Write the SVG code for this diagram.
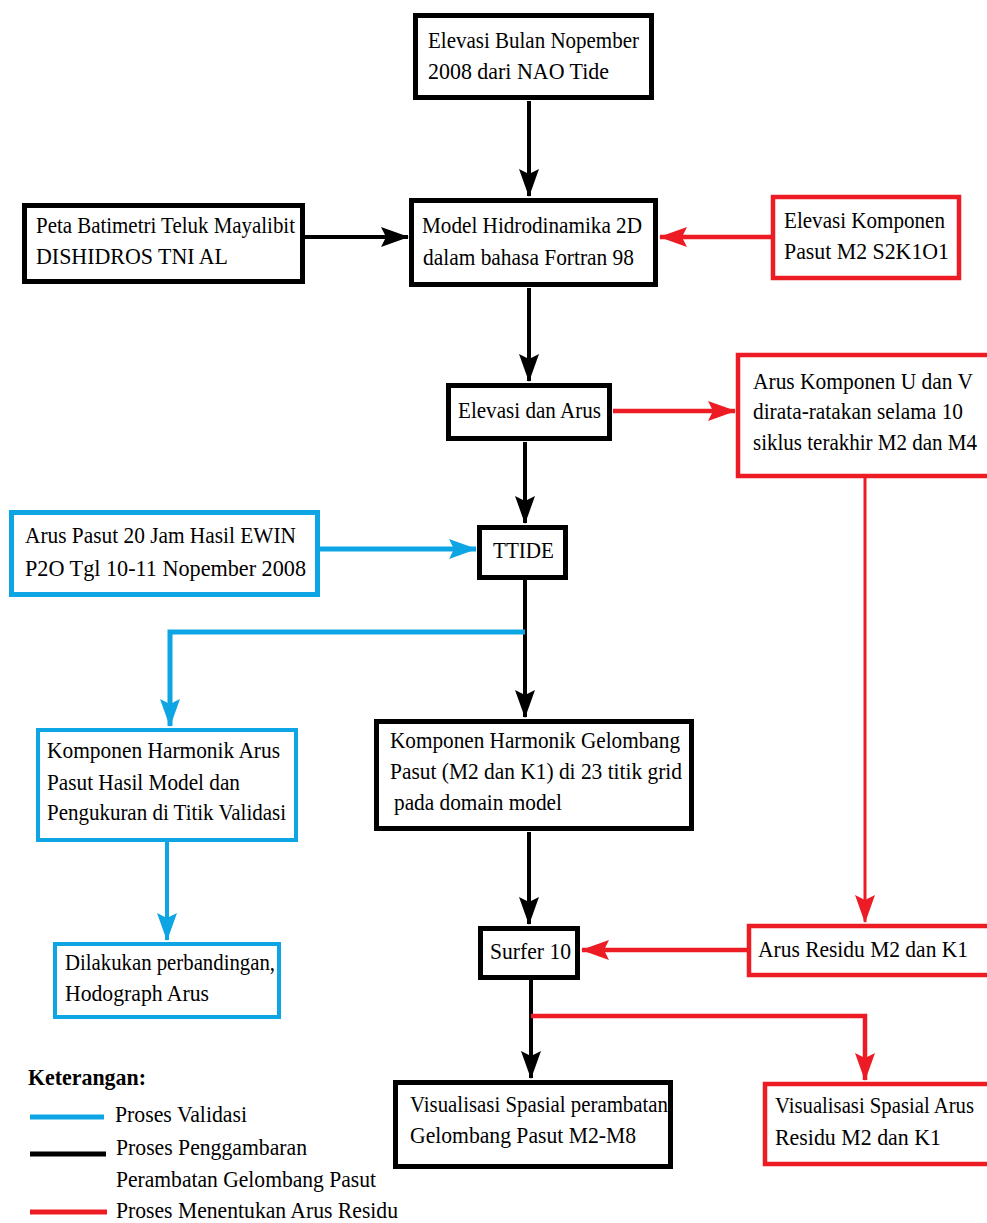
<svg xmlns="http://www.w3.org/2000/svg" width="987" height="1223" viewBox="0 0 987 1223">
<style>
text{font-family:'Liberation Serif','Times New Roman',Times,serif;font-size:20.5px;fill:#000}
.b{fill:#fff;stroke:#000;stroke-width:5}
.r{fill:#fff;stroke:#ED1C24;stroke-width:4.5}
.u{fill:#fff;stroke:#0EA5E4;stroke-width:5}
.ck{stroke:#000;stroke-width:4;fill:none}
.cr{stroke:#ED1C24;stroke-width:4.5;fill:none}
.cu{stroke:#0EA5E4;stroke-width:5;fill:none}
</style>
<defs>
<marker id="ak" viewBox="0 0 28 20" markerWidth="28" markerHeight="20" refX="27" refY="10" orient="auto" markerUnits="userSpaceOnUse"><path d="M0,0 L28,10 L0,20 L5,10 Z" fill="#000"/></marker>
<marker id="ar" viewBox="0 0 28 20" markerWidth="28" markerHeight="20" refX="27" refY="10" orient="auto" markerUnits="userSpaceOnUse"><path d="M0,0 L28,10 L0,20 L5,10 Z" fill="#ED1C24"/></marker>
<marker id="au" viewBox="0 0 28 20" markerWidth="28" markerHeight="20" refX="27" refY="10" orient="auto" markerUnits="userSpaceOnUse"><path d="M0,0 L28,10 L0,20 L5,10 Z" fill="#0EA5E4"/></marker>
</defs>
<g id="connectors">
<line class="ck" x1="529" y1="101" x2="529" y2="196" marker-end="url(#ak)"/>
<line class="ck" x1="305" y1="237" x2="408" y2="237" marker-end="url(#ak)"/>
<line class="cr" x1="771" y1="237" x2="660" y2="237" marker-end="url(#ar)"/>
<line class="ck" x1="529" y1="288" x2="529" y2="381" marker-end="url(#ak)"/>
<line class="cr" x1="613" y1="411" x2="735" y2="411" marker-end="url(#ar)"/>
<line class="ck" x1="525" y1="442" x2="525" y2="523" marker-end="url(#ak)"/>
<line class="cu" x1="320" y1="549" x2="476" y2="549" marker-end="url(#au)"/>
<line class="ck" x1="525" y1="580" x2="525" y2="717" marker-end="url(#ak)"/>
<path class="cu" d="M525,632 H170 V726" marker-end="url(#au)"/>
<line class="cr" x1="865" y1="478" x2="865" y2="922" style="stroke-width:3" marker-end="url(#ar)"/>
<line class="ck" x1="529" y1="832" x2="529" y2="924" marker-end="url(#ak)"/>
<line class="cu" x1="167" y1="842" x2="167" y2="940" style="stroke-width:4" marker-end="url(#au)"/>
<line class="cr" x1="747" y1="950" x2="582" y2="950" marker-end="url(#ar)"/>
<line class="ck" x1="531" y1="980" x2="531" y2="1078" marker-end="url(#ak)"/>
<path class="cr" d="M531,1016 H865 V1080" marker-end="url(#ar)"/>
</g>
<g id="n1"><rect class="b" x="415.5" y="15.5" width="236" height="82"/>
<text transform="translate(428,48) scale(1,1.17)" textLength="211" lengthAdjust="spacingAndGlyphs">Elevasi Bulan Nopember</text>
<text transform="translate(428,79) scale(1,1.17)" textLength="181" lengthAdjust="spacingAndGlyphs">2008 dari NAO Tide</text></g>
<g id="n2"><rect class="b" x="24.5" y="205.5" width="278" height="76"/>
<text transform="translate(36,233) scale(1,1.17)" textLength="259" lengthAdjust="spacingAndGlyphs">Peta Batimetri Teluk Mayalibit</text>
<text transform="translate(36,264) scale(1,1.17)" textLength="192" lengthAdjust="spacingAndGlyphs">DISHIDROS TNI AL</text></g>
<g id="n3"><rect class="b" x="411.5" y="200.5" width="244" height="84"/>
<text transform="translate(422,233) scale(1,1.17)" textLength="220" lengthAdjust="spacingAndGlyphs">Model Hidrodinamika 2D</text>
<text transform="translate(423,265) scale(1,1.17)" textLength="211" lengthAdjust="spacingAndGlyphs">dalam bahasa Fortran 98</text></g>
<g id="n4"><rect class="r" x="773" y="197" width="186" height="81"/>
<text transform="translate(784,228) scale(1,1.17)" textLength="161" lengthAdjust="spacingAndGlyphs">Elevasi Komponen</text>
<text transform="translate(784,259) scale(1,1.17)" textLength="165" lengthAdjust="spacingAndGlyphs">Pasut M2 S2K1O1</text></g>
<g id="n5"><rect class="b" x="448.5" y="385.5" width="161" height="53"/>
<text transform="translate(458,418) scale(1,1.17)" textLength="143" lengthAdjust="spacingAndGlyphs">Elevasi dan Arus</text></g>
<g id="n6"><rect class="r" x="738" y="355" width="262" height="121"/>
<text transform="translate(753,389) scale(1,1.17)" textLength="220" lengthAdjust="spacingAndGlyphs">Arus Komponen U dan V</text>
<text transform="translate(753,419) scale(1,1.17)" textLength="210" lengthAdjust="spacingAndGlyphs">dirata-ratakan selama 10</text>
<text transform="translate(753,450) scale(1,1.17)" textLength="224" lengthAdjust="spacingAndGlyphs">siklus terakhir M2 dan M4</text></g>
<g id="n7"><rect class="b" x="479.5" y="527.5" width="86" height="50"/>
<text transform="translate(493,558) scale(1,1.17)" textLength="61" lengthAdjust="spacingAndGlyphs">TTIDE</text></g>
<g id="n8"><rect class="u" x="11.5" y="512.5" width="306" height="82"/>
<text transform="translate(25,543) scale(1,1.17)" textLength="271" lengthAdjust="spacingAndGlyphs">Arus Pasut 20 Jam Hasil EWIN</text>
<text transform="translate(25,576) scale(1,1.17)" textLength="281" lengthAdjust="spacingAndGlyphs">P2O Tgl 10-11 Nopember 2008</text></g>
<g id="n9"><rect class="u" x="38" y="730" width="258" height="110" style="stroke-width:4"/>
<text transform="translate(47,758) scale(1,1.17)" textLength="233" lengthAdjust="spacingAndGlyphs">Komponen Harmonik Arus</text>
<text transform="translate(47,790) scale(1,1.17)" textLength="193" lengthAdjust="spacingAndGlyphs">Pasut Hasil Model dan</text>
<text transform="translate(47,820) scale(1,1.17)" textLength="239" lengthAdjust="spacingAndGlyphs">Pengukuran di Titik Validasi</text></g>
<g id="n10"><rect class="b" x="376.5" y="721.5" width="315" height="107"/>
<text transform="translate(390,748) scale(1,1.17)" textLength="290" lengthAdjust="spacingAndGlyphs">Komponen Harmonik Gelombang</text>
<text transform="translate(390,779) scale(1,1.17)" textLength="292" lengthAdjust="spacingAndGlyphs">Pasut (M2 dan K1) di 23 titik grid</text>
<text transform="translate(394,810) scale(1,1.17)" textLength="168" lengthAdjust="spacingAndGlyphs">pada domain model</text></g>
<g id="n11"><rect class="u" x="55" y="944" width="224" height="73" style="stroke-width:4"/>
<text transform="translate(65,970) scale(1,1.17)" textLength="210" lengthAdjust="spacingAndGlyphs">Dilakukan perbandingan,</text>
<text transform="translate(65,1001) scale(1,1.17)" textLength="144" lengthAdjust="spacingAndGlyphs">Hodograph Arus</text></g>
<g id="n12"><rect class="b" x="480.5" y="928.5" width="97" height="49"/>
<text transform="translate(490,959) scale(1,1.17)" textLength="81" lengthAdjust="spacingAndGlyphs">Surfer 10</text></g>
<g id="n13"><rect class="r" x="749" y="926" width="251" height="49"/>
<text transform="translate(758,957) scale(1,1.17)" textLength="210" lengthAdjust="spacingAndGlyphs">Arus Residu M2 dan K1</text></g>
<g id="n14"><rect class="b" x="395.5" y="1082.5" width="275" height="84"/>
<text transform="translate(410,1112) scale(1,1.17)" textLength="258" lengthAdjust="spacingAndGlyphs">Visualisasi Spasial perambatan</text>
<text transform="translate(410,1143) scale(1,1.17)" textLength="226" lengthAdjust="spacingAndGlyphs">Gelombang Pasut M2-M8</text></g>
<g id="n15"><rect class="r" x="765" y="1084" width="235" height="80"/>
<text transform="translate(775,1113) scale(1,1.17)" textLength="199" lengthAdjust="spacingAndGlyphs">Visualisasi Spasial Arus</text>
<text transform="translate(775,1145) scale(1,1.17)" textLength="166" lengthAdjust="spacingAndGlyphs">Residu M2 dan K1</text></g>
<g id="legend">
<text transform="translate(28,1085) scale(1,1.17)" textLength="118" lengthAdjust="spacingAndGlyphs" font-weight="bold">Keterangan:</text>
<line x1="30" y1="1117" x2="104" y2="1117" stroke="#0EA5E4" stroke-width="5"/>
<text transform="translate(115,1122) scale(1,1.17)" textLength="132" lengthAdjust="spacingAndGlyphs">Proses Validasi</text>
<line x1="30" y1="1154" x2="106" y2="1154" stroke="#000" stroke-width="5"/>
<text transform="translate(116,1155) scale(1,1.17)" textLength="191" lengthAdjust="spacingAndGlyphs">Proses Penggambaran</text>
<text transform="translate(116,1187) scale(1,1.17)" textLength="260" lengthAdjust="spacingAndGlyphs">Perambatan Gelombang Pasut</text>
<line x1="30" y1="1212" x2="107" y2="1212" stroke="#ED1C24" stroke-width="5"/>
<text transform="translate(116,1218) scale(1,1.17)" textLength="282" lengthAdjust="spacingAndGlyphs">Proses Menentukan Arus Residu</text>
</g>
</svg>
